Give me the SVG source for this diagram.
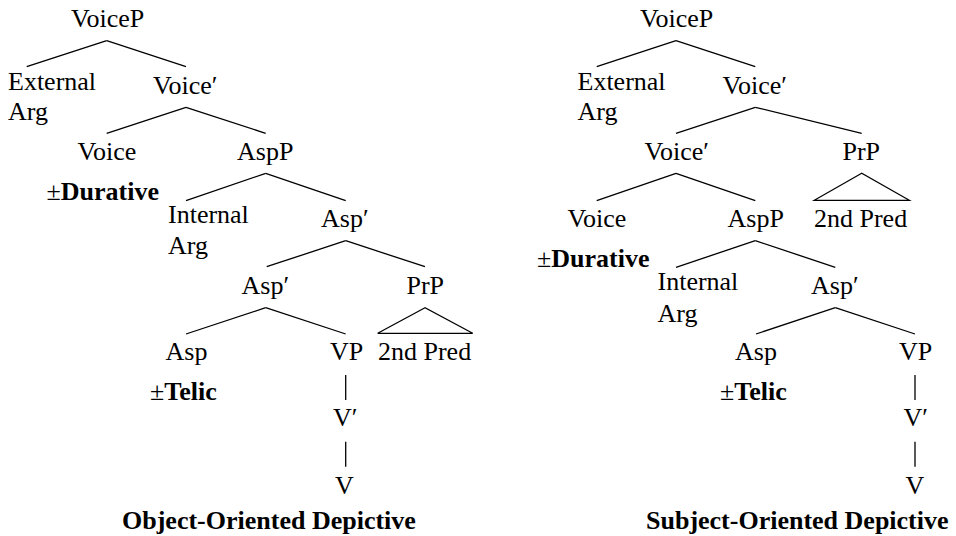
<svg xmlns="http://www.w3.org/2000/svg" width="956" height="536" viewBox="0 0 956 536" font-family="'Liberation Serif', Tinos, 'Times New Roman', Times, 'DejaVu Serif', serif" font-size="26">
<style>
text{font-family:'Liberation Serif', Tinos, 'Times New Roman', Times, 'DejaVu Serif', serif;font-size:26px;fill:#000}
.b{font-weight:bold}
.n{font-weight:normal}
line,polygon{stroke:#000;stroke-width:1.3;fill:none}
</style>
<rect width="956" height="536" fill="#fff"/>
<g id="left-tree">
<g id="L-VoiceP"><text x="71" y="27">VoiceP</text></g>
<g id="L-ExtArg"><text x="8" y="90">External</text><text x="8" y="120">Arg</text></g>
<g id="L-VoiceBar"><text x="153" y="94">Voice′</text></g>
<g id="L-Voice"><text x="77.5" y="160">Voice</text><text x="46.5" y="200" class="b"><tspan class="n">±</tspan>Durative</text></g>
<g id="L-AspP"><text x="237" y="160">AspP</text></g>
<g id="L-IntArg"><text x="168" y="223">Internal</text><text x="168" y="254">Arg</text></g>
<g id="L-AspBar1"><text x="321" y="227">Asp′</text></g>
<g id="L-AspBar2"><text x="241.5" y="293.5">Asp′</text></g>
<g id="L-PrP"><text x="406.5" y="293.5">PrP</text></g>
<g id="L-Asp"><text x="165.5" y="360">Asp</text><text x="150" y="400" class="b"><tspan class="n">±</tspan>Telic</text></g>
<g id="L-VP"><text x="330" y="360">VP</text></g>
<g id="L-2ndPred"><text x="378" y="360">2nd Pred</text></g>
<g id="L-VBar"><text x="333" y="426">V′</text></g>
<g id="L-V"><text x="335" y="493.5">V</text></g>
<g id="L-title"><text x="122" y="528.5" class="b">Object-Oriented Depictive</text></g>
</g>
<g id="right-tree">
<g id="R-VoiceP"><text x="640" y="27">VoiceP</text></g>
<g id="R-ExtArg"><text x="577.5" y="90">External</text><text x="577.5" y="120">Arg</text></g>
<g id="R-VoiceBar1"><text x="722.5" y="94">Voice′</text></g>
<g id="R-VoiceBar2"><text x="644.5" y="160">Voice′</text></g>
<g id="R-PrP"><text x="842.5" y="160">PrP</text></g>
<g id="R-Voice"><text x="567.5" y="227">Voice</text><text x="537" y="267" class="b"><tspan class="n">±</tspan>Durative</text></g>
<g id="R-AspP"><text x="727.5" y="227">AspP</text></g>
<g id="R-2ndPred"><text x="814" y="227">2nd Pred</text></g>
<g id="R-IntArg"><text x="657.5" y="290">Internal</text><text x="657.5" y="321.5">Arg</text></g>
<g id="R-AspBar"><text x="811" y="293.5">Asp′</text></g>
<g id="R-Asp"><text x="735" y="360">Asp</text><text x="720" y="400" class="b"><tspan class="n">±</tspan>Telic</text></g>
<g id="R-VP"><text x="899" y="360">VP</text></g>
<g id="R-VBar"><text x="903.5" y="426">V′</text></g>
<g id="R-V"><text x="905.5" y="493.5">V</text></g>
<g id="R-title"><text x="646" y="528.5" class="b">Subject-Oriented Depictive</text></g>
</g>
<g id="connectors">
<line x1="106.7" y1="40.7" x2="26.7" y2="66.7"/><line x1="106.7" y1="40.7" x2="186" y2="66.7"/>
<line x1="186" y1="107.3" x2="106.7" y2="133.3"/><line x1="186" y1="107.3" x2="265.7" y2="133.3"/>
<line x1="265.7" y1="173.3" x2="186" y2="200.7"/><line x1="265.7" y1="173.3" x2="345.7" y2="200.7"/>
<line x1="345.7" y1="240.7" x2="266.7" y2="266.7"/><line x1="345.7" y1="240.7" x2="425" y2="266.7"/>
<line x1="265.7" y1="307.7" x2="186" y2="334"/><line x1="265.7" y1="307.7" x2="345.7" y2="334"/>
<polygon points="425,307.7 377.7,333.3 472.7,333.3"/>
<line x1="345.7" y1="375" x2="345.7" y2="400"/>
<line x1="345.7" y1="441.7" x2="345.7" y2="466.7"/>
<line x1="676" y1="40.7" x2="596.7" y2="66.7"/><line x1="676" y1="40.7" x2="755.3" y2="66.7"/>
<line x1="755.3" y1="107.3" x2="676" y2="133.3"/><line x1="755.3" y1="107.3" x2="861.7" y2="133.3"/>
<line x1="676" y1="173.3" x2="596.7" y2="200.7"/><line x1="676" y1="173.3" x2="755.3" y2="200.7"/>
<polygon points="861.7,173.3 814.3,200.3 909.3,200.3"/>
<line x1="755.3" y1="240.7" x2="676" y2="267.3"/><line x1="755.3" y1="240.7" x2="835.3" y2="267.3"/>
<line x1="835.3" y1="307.7" x2="756" y2="334"/><line x1="835.3" y1="307.7" x2="915" y2="334"/>
<line x1="915" y1="375" x2="915" y2="400"/>
<line x1="915" y1="441.7" x2="915" y2="466.7"/>
</g>
</svg>
